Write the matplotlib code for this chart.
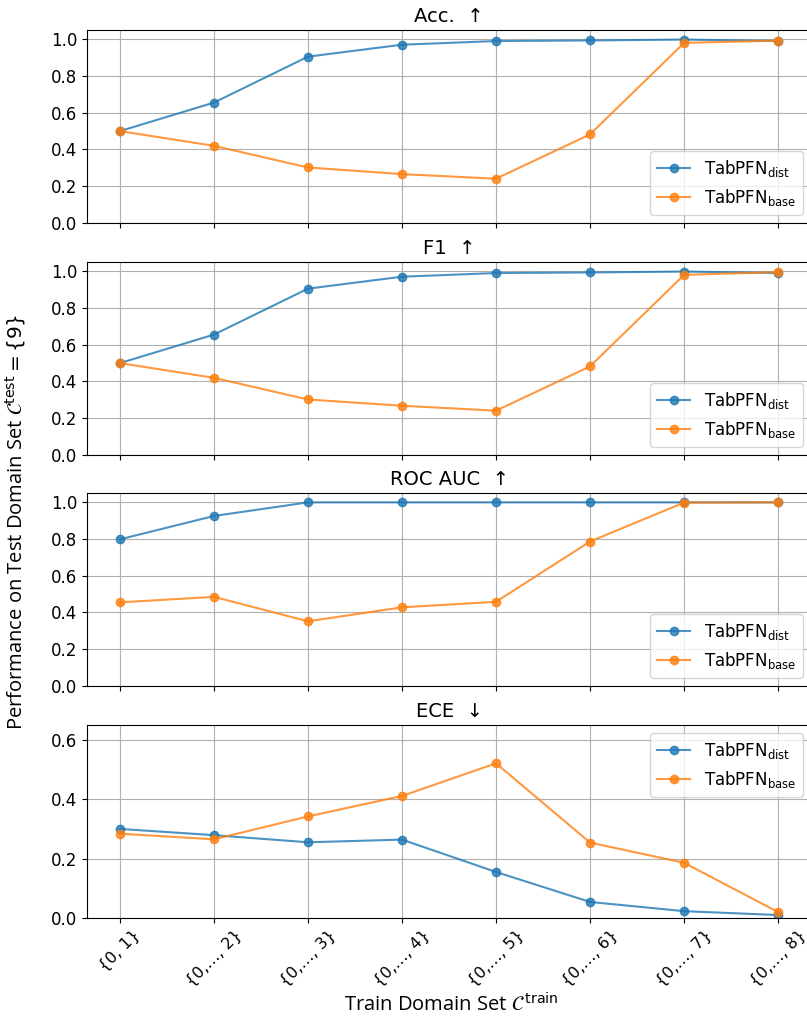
import matplotlib
matplotlib.use("Agg")
import matplotlib.pyplot as plt
import numpy as np

# x tick labels (train domain sets)
train_sets = ["{0, 1}", "{0,…, 2}", "{0,…, 3}", "{0,…, 4}",
              "{0,…, 5}", "{0,…, 6}", "{0,…, 7}", "{0,…, 8}"]

acc_dist = [0.50, 0.655, 0.905, 0.970, 0.990, 0.993, 0.998, 0.990]
acc_base = [0.50, 0.420, 0.302, 0.266, 0.241, 0.482, 0.980, 0.992]

f1_dist = [0.50, 0.655, 0.905, 0.970, 0.990, 0.993, 0.998, 0.990]
f1_base = [0.50, 0.420, 0.302, 0.268, 0.241, 0.482, 0.980, 0.995]

roc_dist = [0.798, 0.925, 0.999, 0.999, 0.999, 0.999, 0.999, 0.999]
roc_base = [0.455, 0.485, 0.352, 0.428, 0.458, 0.786, 0.998, 0.999]

ece_dist = [0.300, 0.279, 0.255, 0.264, 0.155, 0.054, 0.023, 0.010]
ece_base = [0.284, 0.265, 0.342, 0.411, 0.521, 0.254, 0.186, 0.020]

titles = ["Acc.  ↑", "F1  ↑", "ROC AUC  ↑", "ECE  ↓"]
dist_vals = [acc_dist, f1_dist, roc_dist, ece_dist]
base_vals = [acc_base, f1_base, roc_base, ece_base]

fig = plt.figure(figsize=(8.07, 10.17), dpi=100)
W, H = 807, 1017
tops = [30, 262, 493, 725]
x = np.arange(len(train_sets))

for i in range(4):
    ax = fig.add_axes([87 / W, 1 - (tops[i] + 193) / H, 724 / W, 193 / H])
    ax.plot(x, dist_vals[i], "o-", color="#1f77b4", alpha=0.8, ms=6, lw=1.5,
            label=r"TabPFN$_{\mathrm{dist}}$")
    ax.plot(x, base_vals[i], "o-", color="#ff7f0e", alpha=0.8, ms=6, lw=1.5,
            label=r"TabPFN$_{\mathrm{base}}$")
    ax.set_title(titles[i], fontsize=14)
    ax.grid(True, color="#b0b0b0", lw=0.8)
    ax.set_axisbelow(True)
    ax.set_xticks(x)
    ax.tick_params(labelsize=12)
    if i < 3:
        ax.set_ylim(0, 1.05)
        ax.set_yticks([0, 0.2, 0.4, 0.6, 0.8, 1.0])
        ax.set_xticklabels([])
        ax.legend(loc="lower right", fontsize=12)
    else:
        ax.set_ylim(0, 0.65)
        ax.set_yticks([0, 0.2, 0.4, 0.6])
        ax.set_xticklabels(train_sets, rotation=45, ha="center", fontsize=11.5)
        ax.legend(loc="upper right", fontsize=12)

fig.text(451 / W, 1 - 1005 / H, r"Train Domain Set $\mathcal{C}^{\,\mathrm{train}}$",
         ha="center", va="center", fontsize=14.5, family="Open Sans")
fig.text(16 / W, 1 - 522 / H, r"Performance on Test Domain Set $\mathcal{C}^{\mathrm{test}} = \{9\}$",
         rotation=90, va="center", ha="center", fontsize=14.5, family="Open Sans")

fig.savefig("out.png", dpi=100)
